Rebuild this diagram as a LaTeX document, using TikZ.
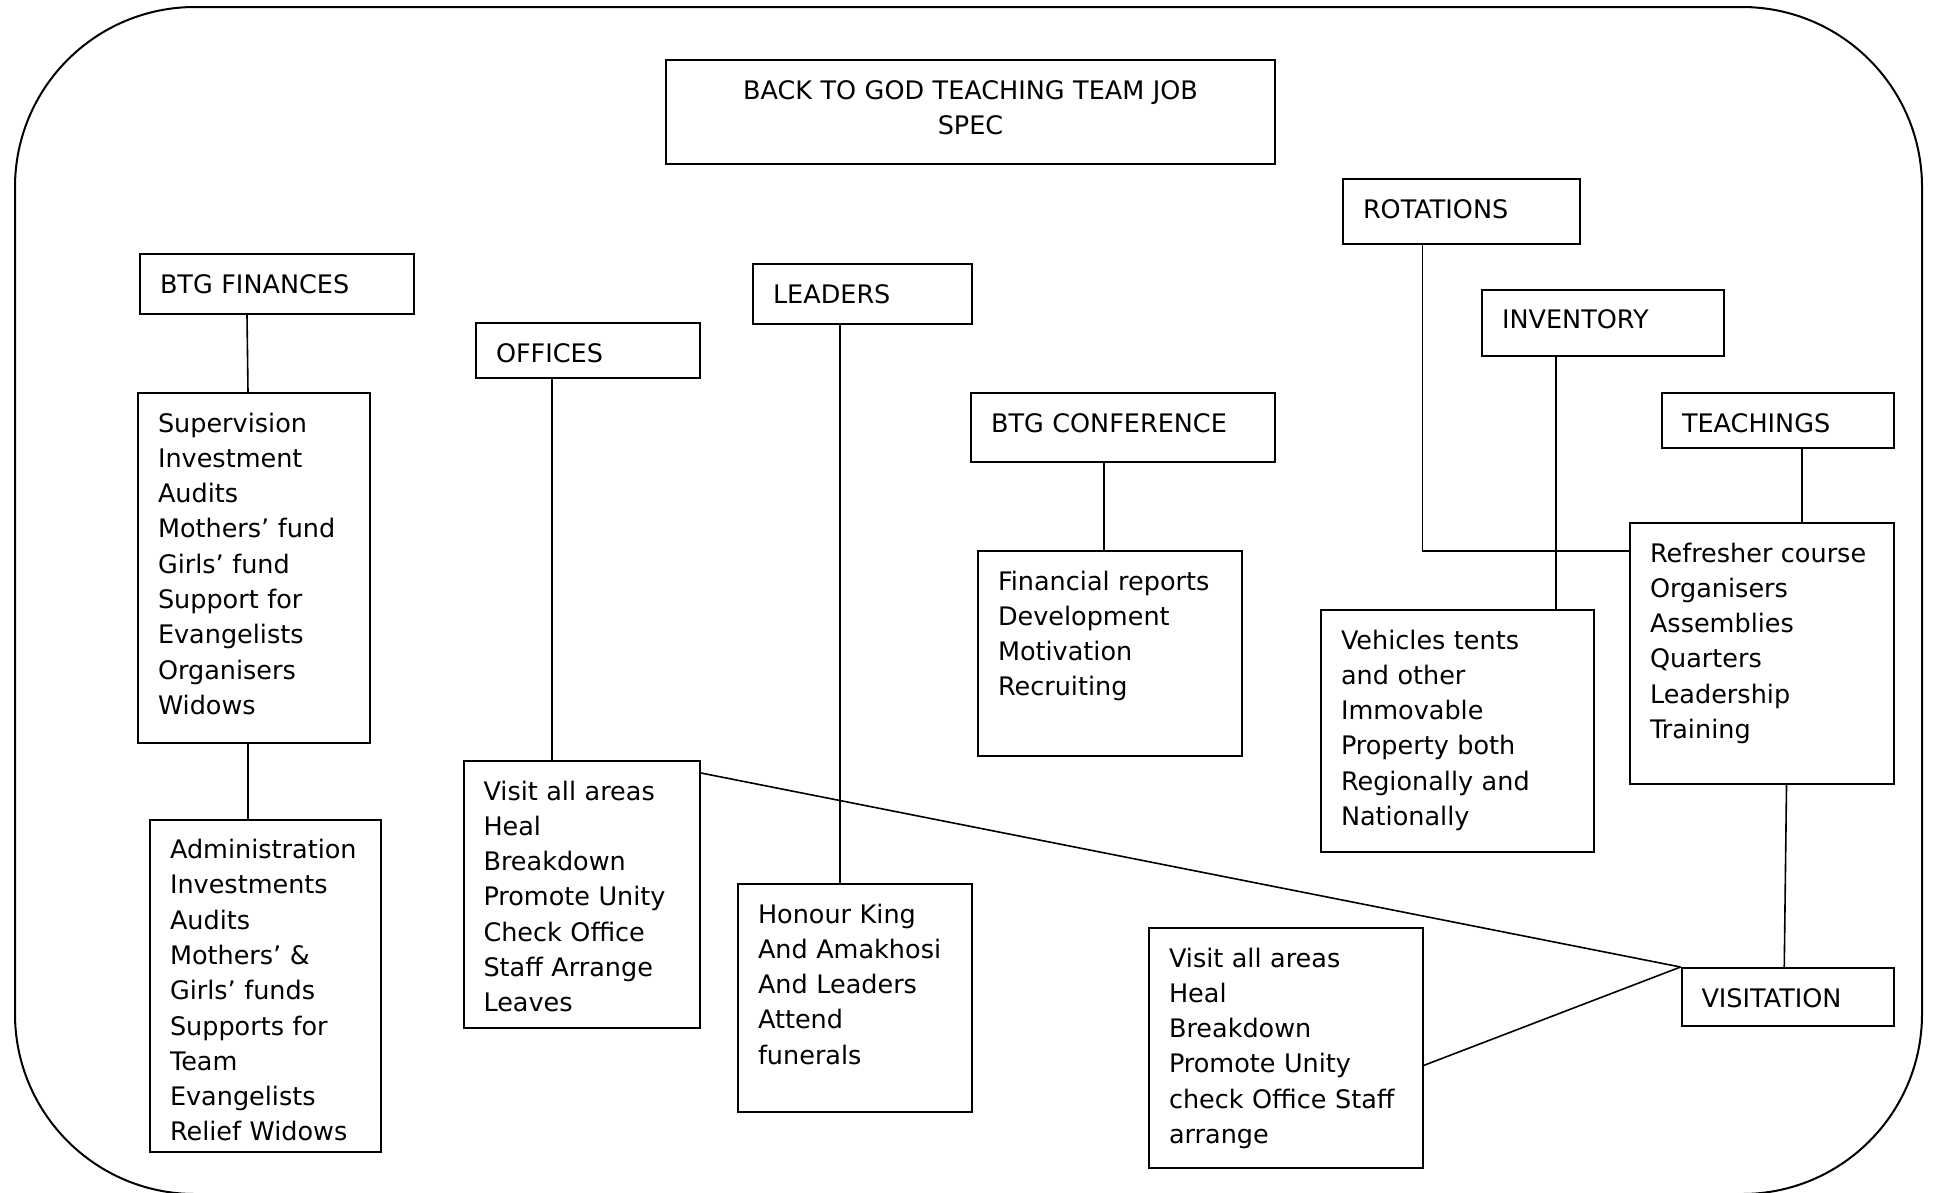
\documentclass[tikz,border=0pt]{standalone}
\usepackage{fontspec}
\setmainfont{DejaVu Sans}
\tikzset{
  box/.style={draw, line width=2pt, anchor=north west, align=left,
    inner xsep=20pt, inner ysep=0pt, text height=39pt},
  link/.style={line width=1.6pt}
}
\begin{document}
\begin{tikzpicture}[x=1pt, y=-1pt, font=\fontsize{25.5}{35.3}\selectfont]
  \useasboundingbox (0,0) rectangle (1934,1192);
  \draw[line width=2pt, rounded corners=180pt] (15,7) rectangle (1922,1194);
  % title
  \node[box, align=center, text width=569pt, text depth=65pt] (title) at (665,59)
    {BACK TO GOD TEACHING TEAM JOB\\SPEC};
  % headings
  \node[box, text width=234pt, text depth=21pt] (finhead) at (139,253) {BTG FINANCES};
  \node[box, text width=184pt, text depth=16pt] (offhead) at (475,322) {OFFICES};
  \node[box, text width=179pt, text depth=21pt] (leadhead) at (752,263) {LEADERS};
  \node[box, text width=263.5pt, text depth=30pt] (confhead) at (970,392) {BTG CONFERENCE};
  \node[box, text width=197pt, text depth=26pt] (rothead) at (1342,178) {ROTATIONS};
  \node[box, text width=202pt, text depth=27.5pt] (invhead) at (1481,288.5) {INVENTORY};
  \node[box, text width=192pt, text depth=16pt] (teachhead) at (1661,392) {TEACHINGS};
  \node[box, text width=172.5pt, text depth=19pt] (visithead) at (1680.5,967) {VISITATION};
  % lists
  \node[box, text width=192pt, text depth=311pt] (finlist) at (137,392)
    {Supervision\\Investment\\Audits\\Mothers’ fund\\Girls’ fund\\Support for\\Evangelists\\Organisers\\Widows};
  \node[box, text width=191pt, text depth=293.5pt] (adminlist) at (149,818.5)
    {Administration\\Investments\\Audits\\Mothers’ \&\\Girls’ funds\\Supports for\\Team\\Evangelists\\Relief Widows};
  \node[box, text width=196.5pt, text depth=228pt] (offlist) at (462.5,760)
    {Visit all areas\\Heal\\Breakdown\\Promote Unity\\Check Office\\Staff Arrange\\Leaves};
  \node[box, text width=194pt, text depth=189pt] (leadlist) at (737,883)
    {Honour King\\And Amakhosi\\And Leaders\\Attend\\funerals};
  \node[box, text width=224pt, text depth=166pt] (conflist) at (977,550)
    {Financial reports\\Development\\Motivation\\Recruiting};
  \node[box, text width=233pt, text depth=203pt] (invlist) at (1320,609)
    {Vehicles tents\\and other\\Immovable\\Property both\\Regionally and\\Nationally};
  \node[box, text width=224pt, text depth=222pt] (teachlist) at (1629,522)
    {Refresher course\\Organisers\\Assemblies\\Quarters\\Leadership\\Training};
  \node[box, text width=233.5pt, text depth=201pt] (visitlist) at (1148,927)
    {Visit all areas\\Heal\\Breakdown\\Promote Unity\\check Office Staff\\arrange};
  % links
  \draw[link] ([xshift=-30pt]finhead.south) -- ([xshift=-6pt]finlist.north);
  \draw[link] ([xshift=-6pt]finlist.south) -- ([xshift=-6pt]finlist.south |- adminlist.north);
  \draw[link] ([xshift=-36pt]offhead.south) -- ([xshift=-36pt]offhead.south |- offlist.north);
  \draw[link] ([xshift=-22.5pt]leadhead.south) -- ([xshift=-22.5pt]leadhead.south |- leadlist.north);
  \draw[link] ([xshift=-19pt]confhead.south) -- ([xshift=-19pt]confhead.south |- conflist.north);
  \draw[link] ([xshift=-39pt]rothead.south) |- ([yshift=-29pt]teachlist.north west);
  \draw[link] ([xshift=-47pt]invhead.south) -- ([xshift=-47pt]invhead.south |- invlist.north);
  \draw[link] ([xshift=24pt]teachhead.south) -- ([xshift=24pt]teachhead.south |- teachlist.north);
  \draw[link] ([xshift=24.5pt]teachlist.south) -- ([xshift=-3.5pt]visithead.north);
  \draw[link] ([yshift=-13pt]offlist.north east) -- (visithead.north west);
  \draw[link] ([yshift=-17.5pt]visitlist.east) -- (visithead.north west);
\end{tikzpicture}
\end{document}
